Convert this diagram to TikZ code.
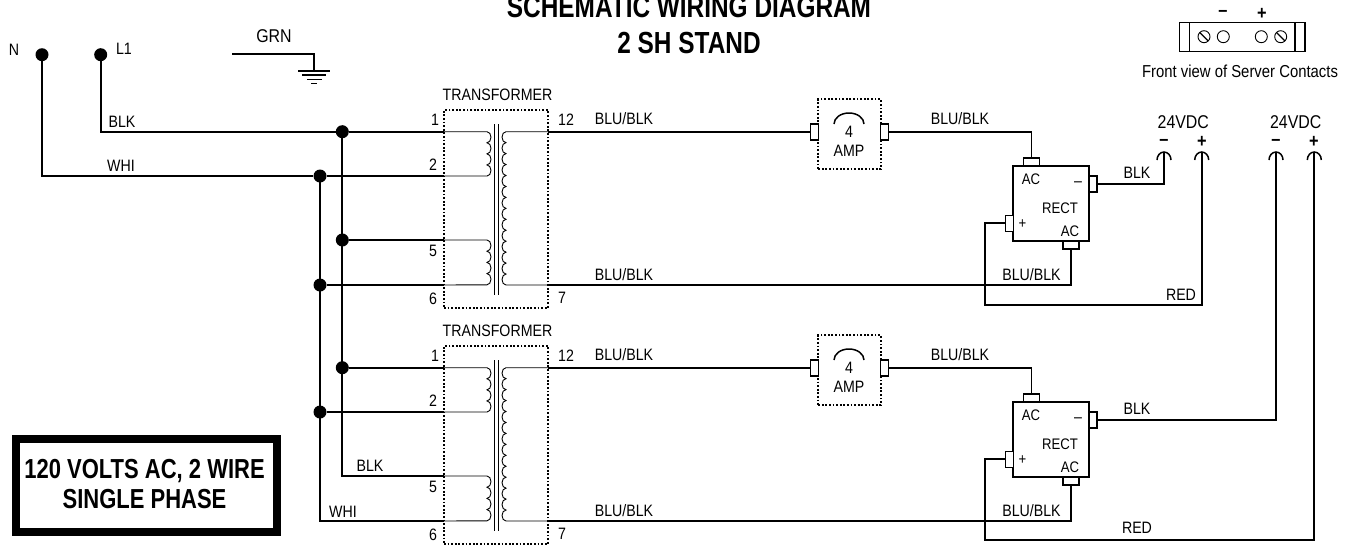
\documentclass[tikz,border=0pt]{standalone}
\usepackage{fontspec}
\setmainfont[FakeStretch=0.86]{Liberation Sans}
\newfontfamily\narrowbold[FakeStretch=0.8]{Liberation Sans}
\tikzset{
    wire/.style={line width=1.9pt},
    thinwire/.style={line width=0.9pt},
    dotbox/.style={draw,dash pattern=on 1.8pt off 1.8pt,line width=1.8pt,inner sep=0pt},
    joint/.style={circle,fill=black,inner sep=0pt,minimum size=13pt},
    pinbox/.style={draw,fill=white,line width=1.6pt,inner sep=0pt},
    lab/.style={inner sep=0pt,font=\fontsize{16.5}{16.5}\selectfont},
    smalllab/.style={inner sep=0pt,font=\fontsize{15.3}{15.3}\selectfont},
    largelab/.style={inner sep=0pt,font=\fontsize{18.5}{18.5}\selectfont},
    boldlab/.style={inner sep=0pt,font=\fontsize{19}{19}\selectfont\bfseries},
    bigtitle/.style={inner sep=0pt,font=\fontsize{30.5}{30.5}\narrowbold\bfseries}
}

\begin{document}
\begin{tikzpicture}[x=1pt,y=-1pt]
    \useasboundingbox (0,0) rectangle (1358,544);
    %%Title
    \draw
    (689,6.5) node[bigtitle] (titleone) {SCHEMATIC WIRING DIAGRAM}
    (689,43) node[bigtitle] (titletwo) {2 SH STAND}
    ;
    %%Two channels
    \foreach \ch/\dy in {A/0,B/236} {
    \begin{scope}[yshift=-\dy pt]
        %%Transformer
        \node[dotbox,minimum width=104pt,minimum height=198pt] (tf\ch) at (496,209) {};
        \coordinate (tfone\ch) at (444,131.7);
        \coordinate (tftwo\ch) at (444,176);
        \coordinate (tffive\ch) at (444,240);
        \coordinate (tfsix\ch) at (444,285);
        \coordinate (tftw\ch) at (548,131.7);
        \coordinate (tfsv\ch) at (548,285);
        \draw[thinwire] (tfone\ch) to (487,131.7)
            \foreach \k in {1,...,4} {arc[start angle=90,end angle=-90,x radius=4pt,y radius=5.54pt]}
            to (tftwo\ch);
        \draw[thinwire] (tffive\ch) to (487,240)
            \foreach \k in {1,...,4} {arc[start angle=90,end angle=-90,x radius=4pt,y radius=5.6pt]}
            to (tfsix\ch);
        \draw[thinwire] (tftw\ch) to (506,131.7)
            \foreach \k in {1,...,14} {arc[start angle=90,end angle=270,x radius=4pt,y radius=5.475pt]}
            to (tfsv\ch);
        \draw[thinwire] (494,124) to (494,295);
        \draw[thinwire] (498.7,124) to (498.7,295);
        %%Fuse
        \node[dotbox,minimum width=62.5pt,minimum height=70pt] (fuse\ch) at (849.5,134.3) {};
        \node[pinbox,minimum width=8pt,minimum height=16pt] (fusein\ch) at (814.5,131.7) {};
        \node[pinbox,minimum width=8pt,minimum height=16pt] (fuseout\ch) at (884.5,131.7) {};
        \draw[line width=1.5pt] (834,124) arc[start angle=180,end angle=0,x radius=15pt,y radius=11pt];
        %%Rectifier
        \node[draw,line width=1.8pt,minimum width=75.4pt,minimum height=75pt] (rect\ch) at (1051,203.5) {};
        \node[pinbox,minimum width=16pt,minimum height=8pt] (rectac\ch) at (1031.5,161.7) {};
        \node[pinbox,minimum width=16pt,minimum height=8pt] (rectacb\ch) at (1071,245) {};
        \node[pinbox,minimum width=8pt,minimum height=16pt] (rectminus\ch) at (1092.8,184) {};
        \node[pinbox,minimum width=8pt,minimum height=16pt] (rectplus\ch) at (1009.3,223.3) {};
        %%Wires
        \draw[wire] (tftw\ch) to (fusein\ch);
        \draw[wire] (fuseout\ch) -| (rectac\ch);
        \draw[wire] (tfsv\ch) -| (rectacb\ch);
        %%Labels
        \draw
        (497.5,95) node[lab] (tflab\ch) {TRANSFORMER}
        (435,120) node[lab] (pinone\ch) {1}
        (433,165) node[lab] (pintwo\ch) {2}
        (433,251) node[lab] (pinfive\ch) {5}
        (433,299) node[lab] (pinsix\ch) {6}
        (566,120) node[lab] (pintw\ch) {12}
        (562,298) node[lab] (pinsv\ch) {7}
        (624,119) node[lab] (bluone\ch) {BLU/BLK}
        (624,275) node[lab] (blutwo\ch) {BLU/BLK}
        (960,119) node[lab] (bluthr\ch) {BLU/BLK}
        (1031.5,275) node[lab] (blufou\ch) {BLU/BLK}
        (849,132) node[lab] (fusefour\ch) {4}
        (849,151) node[lab] (fuseamp\ch) {AMP}
        (1031,179) node[smalllab] (acone\ch) {AC}
        (1078,184) node[lab] (minus\ch) {–}
        (1060,208) node[smalllab] (rectlab\ch) {RECT}
        (1022.5,224) node[smalllab] (plus\ch) {+}
        (1070,231) node[smalllab] (actwo\ch) {AC}
        (1137,173) node[lab] (blkout\ch) {BLK}
        ;
    \end{scope}
    }
    %%Supply
    \node[joint] (dotN) at (42,54.7) {};
    \node[joint] (dotL) at (100.7,54.7) {};
    \node[joint] (dotoneA) at (342.3,131.7) {};
    \node[joint] (dottwoA) at (320,176) {};
    \node[joint] (dotfiveA) at (342.3,240) {};
    \node[joint] (dotsixA) at (320,285) {};
    \node[joint] (dotoneB) at (342.3,367.7) {};
    \node[joint] (dottwoB) at (320,412) {};
    \draw[wire] (dotL) |- (dotoneA);
    \draw[wire] (dotN) |- (dottwoA);
    \draw[wire] (dotoneA.center) |- (tffiveB);
    \draw[wire] (dottwoA.center) |- (tfsixB);
    \draw[wire] (dotoneA) to (tfoneA);
    \draw[wire] (dottwoA) to (tftwoA);
    \draw[wire] (dotfiveA) to (tffiveA);
    \draw[wire] (dotsixA) to (tfsixA);
    \draw[wire] (dotoneB) to (tfoneB);
    \draw[wire] (dottwoB) to (tftwoB);
    %%Ground
    \coordinate (grnleft) at (232,54);
    \coordinate (grnfoot) at (314,71);
    \draw[wire] (grnleft) -| (grnfoot);
    \draw[line width=1.7pt] (298,71) to (330,71);
    \draw[line width=1.5pt] (302,75.2) to (326,75.2);
    \draw[line width=1.5pt] (307,79.4) to (321.5,79.4);
    \draw[line width=1.5pt] (311,83.5) to (317,83.5);
    %%Output terminals
    \foreach \t/\x in {Am/1164,Ap/1201.7,Bm/1276,Bp/1314.3} {
        \coordinate (term\t) at (\x,152);
        \draw[line width=1.5pt] (\x-7,160) arc[start angle=180,end angle=0,x radius=7pt,y radius=8pt];
    }
    \coordinate (redA) at (985,305.3);
    \coordinate (redB) at (985,540);
    \draw[wire] (rectminusA) -| (termAm);
    \draw[wire] (rectminusB) -| (termBm);
    \draw[wire] (rectplusA) -| (redA) -| (termAp);
    \draw[wire] (rectplusB) -| (redB) -| (termBp);
    %%Server contacts
    \draw[line width=1.1pt] (1179.3,22.7) rectangle (1305,51.7);
    \draw[line width=1.1pt] (1189.3,22.7) to (1189.3,51.7);
    \draw[line width=1.1pt] (1295,22.7) to (1295,51.7);
    \foreach \x in {1204,1223.3,1261.3,1280.7} {
        \draw[line width=0.9pt] (\x,36.7) circle (6pt);
    }
    \foreach \x in {1204,1280.7} {
        \draw[line width=1.3pt] (\x-4.2,32.5) to (\x+4.2,40.9);
    }
    %%Voltage box
    \node[draw,line width=8pt,minimum width=260.5pt,minimum height=92.7pt] (phasebox) at (146.7,485.3) {};
    \node[align=center,inner sep=0pt,font=\fontsize{27.5}{30}\narrowbold\bfseries] (phasetext) at (144.5,484.3)
        {120 VOLTS AC, 2 WIRE\\SINGLE PHASE};
    %%Labels
    \draw
    (14,50) node[lab] (labN) {N}
    (124,49) node[lab] (labL) {L1}
    (274,36) node[largelab] (labgrn) {GRN}
    (122,122) node[lab] (labblkone) {BLK}
    (121,166) node[lab] (labwhione) {WHI}
    (370,466) node[lab] (labblktwo) {BLK}
    (343,512) node[lab] (labwhitwo) {WHI}
    (1181,295) node[lab] (labredone) {RED}
    (1137,528) node[lab] (labredtwo) {RED}
    (1183.3,122) node[largelab] (volone) {24VDC}
    (1295.7,122) node[largelab] (voltwo) {24VDC}
    (1164,142) node[boldlab] (vmone) {–}
    (1202,142) node[boldlab] (vpone) {+}
    (1276,142) node[boldlab] (vmtwo) {–}
    (1314,142) node[boldlab] (vptwo) {+}
    (1223,13) node[boldlab] (conminus) {–}
    (1262,14) node[boldlab] (conplus) {+}
    (1240,71) node[lab,font=\fontsize{17.3}{17.3}\selectfont] (confront) {Front view of Server Contacts}
    ;
\end{tikzpicture}
\end{document}
